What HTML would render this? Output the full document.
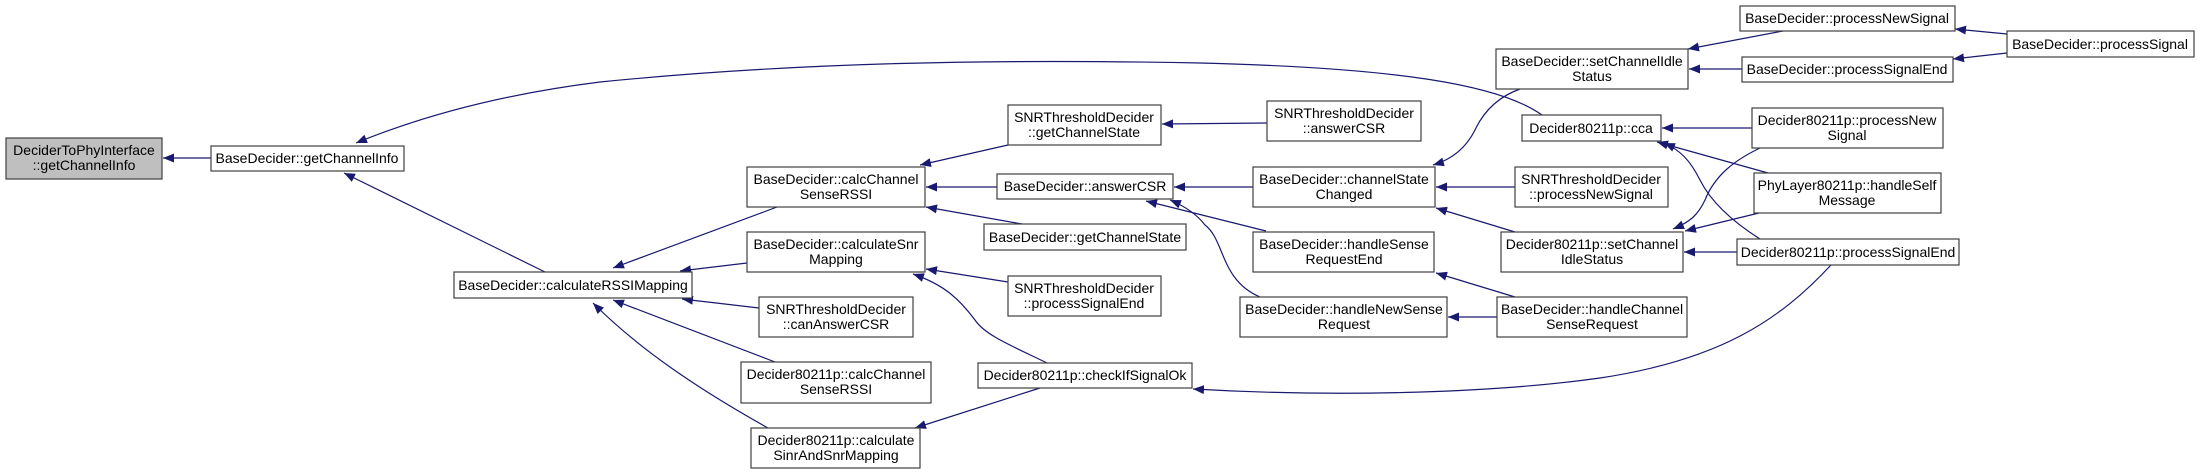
<!DOCTYPE html>
<html><head><meta charset="utf-8"><style>
html,body{margin:0;padding:0;background:#fff;}
svg{display:block;}
text{font-family:"Liberation Sans",sans-serif;font-size:14px;fill:#000;}
</style></head><body>
<svg width="2200" height="473" viewBox="0 0 2200 473" xmlns="http://www.w3.org/2000/svg">
<defs>
<marker id="a" markerUnits="userSpaceOnUse" markerWidth="12" markerHeight="9" refX="11" refY="4.5" orient="auto">
<path d="M0,0 L11,4.5 L0,9 z" fill="#191970"/>
</marker>
</defs>
<g fill="none" stroke="#191970" stroke-width="1.2" marker-end="url(#a)">
<path d="M211,158 L163,158"/>
<path d="M1542,115 C1500,85 1400,68 1200,63 C1000,59 800,62 600,82 C480,97 400,125 356,143"/>
<path d="M545,272 L344,173"/>
<path d="M777,207 L613,268"/>
<path d="M747,263 L680,271"/>
<path d="M759,308 L682,299"/>
<path d="M775,362 L613,300"/>
<path d="M768,428 C700,390 640,350 593,303"/>
<path d="M1008,145 L920,165"/>
<path d="M997,187 L926,187"/>
<path d="M1022,224 L926,207"/>
<path d="M1267,123 L1162,124"/>
<path d="M1253,187 L1174,187"/>
<path d="M1266,231 L1146,201"/>
<path d="M1260,297 C1220,280 1225,240 1205,225 C1195,212 1182,205 1170,200"/>
<path d="M1008,282 L926,269"/>
<path d="M1047,363 C1010,345 985,335 975,320 C960,300 945,285 913,274"/>
<path d="M1040,388 L915,428"/>
<path d="M1520,89 C1495,98 1482,115 1475,130 C1465,150 1450,160 1433,165"/>
<path d="M1515,187 L1436,187"/>
<path d="M1515,232 L1436,208"/>
<path d="M1515,297 L1436,273"/>
<path d="M1497,317 L1448,317"/>
<path d="M1752,128 L1662,128"/>
<path d="M1768,173 L1657,142"/>
<path d="M1760,239 C1730,220 1710,200 1700,180 C1690,160 1680,150 1664,143"/>
<path d="M1760,148 C1735,160 1715,175 1705,200 C1698,215 1690,222 1673,229"/>
<path d="M1759,213 L1685,231"/>
<path d="M1737,252 L1684,252"/>
<path d="M1831,265 C1780,320 1720,360 1600,378 C1500,392 1350,398 1193,389"/>
<path d="M1783,31 L1688,49"/>
<path d="M1742,69 L1689,69"/>
<path d="M2007,34 L1955,29"/>
<path d="M2007,53 L1953,59"/>
</g>
<g stroke="#404040" stroke-width="1.2" fill="#fff">
<rect x="6" y="138" width="156" height="41" fill="#bfbfbf"/>
<rect x="211" y="146" width="193" height="25"/>
<rect x="454" y="272" width="238" height="26"/>
<rect x="747" y="167" width="178" height="40"/>
<rect x="1008" y="105" width="153" height="40"/>
<rect x="1267" y="101" width="154" height="40"/>
<rect x="997" y="174" width="176" height="25"/>
<rect x="1253" y="167" width="182" height="40"/>
<rect x="984" y="224" width="202" height="26"/>
<rect x="747" y="232" width="178" height="40"/>
<rect x="1253" y="232" width="181" height="40"/>
<rect x="1008" y="276" width="153" height="40"/>
<rect x="759" y="297" width="154" height="40"/>
<rect x="1240" y="297" width="207" height="40"/>
<rect x="741" y="362" width="190" height="41"/>
<rect x="978" y="363" width="214" height="25"/>
<rect x="751" y="428" width="169" height="40"/>
<rect x="1740" y="6" width="215" height="25"/>
<rect x="2007" y="31" width="187" height="26"/>
<rect x="1496" y="49" width="192" height="40"/>
<rect x="1742" y="57" width="211" height="25"/>
<rect x="1522" y="115" width="139" height="26"/>
<rect x="1752" y="108" width="191" height="40"/>
<rect x="1515" y="167" width="153" height="40"/>
<rect x="1754" y="173" width="187" height="40"/>
<rect x="1501" y="232" width="182" height="40"/>
<rect x="1737" y="239" width="222" height="26"/>
<rect x="1497" y="297" width="190" height="40"/>
</g>
<g text-anchor="middle">
<text x="84" y="155">DeciderToPhyInterface</text><text x="84" y="170">::getChannelInfo</text>
<text x="307" y="163">BaseDecider::getChannelInfo</text>
<text x="573" y="290">BaseDecider::calculateRSSIMapping</text>
<text x="836" y="184">BaseDecider::calcChannel</text><text x="836" y="199">SenseRSSI</text>
<text x="1084" y="122">SNRThresholdDecider</text><text x="1084" y="137">::getChannelState</text>
<text x="1344" y="118">SNRThresholdDecider</text><text x="1344" y="133">::answerCSR</text>
<text x="1085" y="191">BaseDecider::answerCSR</text>
<text x="1344" y="184">BaseDecider::channelState</text><text x="1344" y="199">Changed</text>
<text x="1085" y="242">BaseDecider::getChannelState</text>
<text x="836" y="249">BaseDecider::calculateSnr</text><text x="836" y="264">Mapping</text>
<text x="1344" y="249">BaseDecider::handleSense</text><text x="1344" y="264">RequestEnd</text>
<text x="1084" y="293">SNRThresholdDecider</text><text x="1084" y="308">::processSignalEnd</text>
<text x="836" y="314">SNRThresholdDecider</text><text x="836" y="329">::canAnswerCSR</text>
<text x="1344" y="314">BaseDecider::handleNewSense</text><text x="1344" y="329">Request</text>
<text x="836" y="379">Decider80211p::calcChannel</text><text x="836" y="394">SenseRSSI</text>
<text x="1085" y="380">Decider80211p::checkIfSignalOk</text>
<text x="836" y="445">Decider80211p::calculate</text><text x="836" y="460">SinrAndSnrMapping</text>
<text x="1847" y="23">BaseDecider::processNewSignal</text>
<text x="2100" y="49">BaseDecider::processSignal</text>
<text x="1592" y="66">BaseDecider::setChannelIdle</text><text x="1592" y="81">Status</text>
<text x="1847" y="74">BaseDecider::processSignalEnd</text>
<text x="1591" y="133">Decider80211p::cca</text>
<text x="1847" y="125">Decider80211p::processNew</text><text x="1847" y="140">Signal</text>
<text x="1591" y="184">SNRThresholdDecider</text><text x="1591" y="199">::processNewSignal</text>
<text x="1847" y="190">PhyLayer80211p::handleSelf</text><text x="1847" y="205">Message</text>
<text x="1592" y="249">Decider80211p::setChannel</text><text x="1592" y="264">IdleStatus</text>
<text x="1848" y="257">Decider80211p::processSignalEnd</text>
<text x="1592" y="314">BaseDecider::handleChannel</text><text x="1592" y="329">SenseRequest</text>
</g>
</svg>
</body></html>
